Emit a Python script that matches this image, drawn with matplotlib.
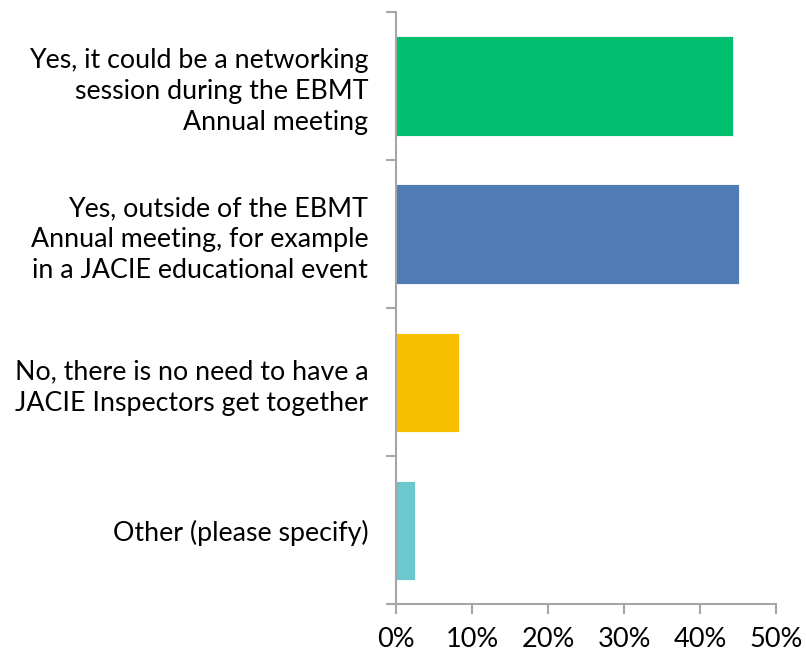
import matplotlib
matplotlib.use("Agg")
import matplotlib.pyplot as plt
from matplotlib.ticker import FuncFormatter

categories = [
    "Yes, it could be a networking\nsession during the EBMT\nAnnual meeting",
    "Yes, outside of the EBMT\nAnnual meeting, for example\nin a JACIE educational event",
    "No, there is no need to have a\nJACIE Inspectors get together",
    "Other (please specify)",
]
values = [44.35, 45.1, 8.3, 2.5]
colors = ["#00BF6F", "#507CB6", "#F8BE00", "#6CC8CD"]
xticks = [0, 10, 20, 30, 40, 50]

plt.rcParams['font.family'] = ['Lato', 'DejaVu Sans']

fig = plt.figure(figsize=(8.06, 6.54), dpi=100)
ax = fig.add_axes([0.4913, 0.0760, 0.4719, 0.9057])

ypos = list(range(len(categories)))
ax.barh(ypos, values, height=0.67, color=colors, edgecolor='white', linewidth=0.6)
ax.set_ylim(len(categories) - 0.5, -0.5)
ax.set_xlim(0, 50)

ax.set_xticks(xticks)
ax.xaxis.set_major_formatter(FuncFormatter(lambda v, p: f"{int(v)}%"))
ax.set_yticks([i - 0.5 for i in range(len(categories) + 1)], minor=False)
ax.set_yticklabels([])
ax.set_yticks(ypos, minor=True)
ax.set_yticklabels(categories, minor=True, fontsize=19.3, ha='right', linespacing=1.3)
ax.tick_params(axis='y', which='minor', length=0, pad=20)
ax.tick_params(axis='y', which='major', length=7, width=1.5, color='#A6A6A6')
ax.tick_params(axis='x', length=7, width=1.5, color='#A6A6A6', labelsize=19.5, pad=9)

for s in ['top', 'right']:
    ax.spines[s].set_visible(False)
for s in ['left', 'bottom']:
    ax.spines[s].set_color('#A6A6A6')
    ax.spines[s].set_linewidth(1.5)

fig.savefig("out.png", dpi=100)
